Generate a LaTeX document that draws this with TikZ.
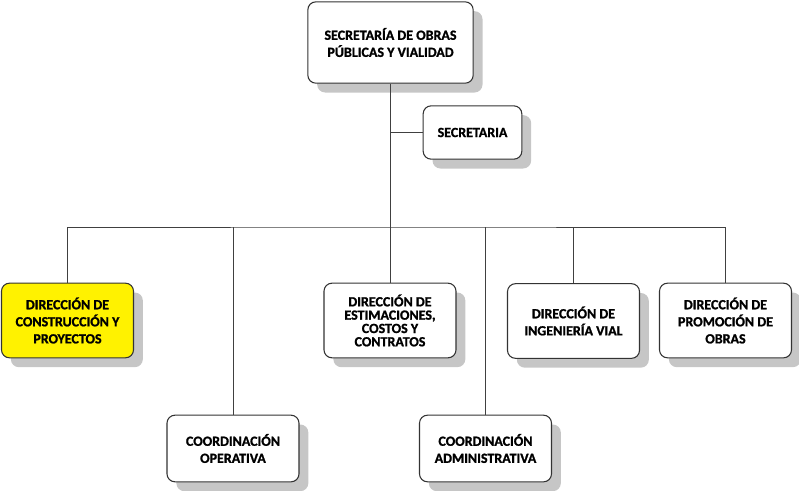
\documentclass[tikz,border=0pt]{standalone}
\usepackage{fontspec}
\setmainfont{Carlito}[BoldFeatures={FakeBold=1.2}]
\usetikzlibrary{positioning,shadows}
\tikzset{unit/.style = {draw=black!80, line width=0.8pt, rounded corners=6pt, fill=white, align=center,
    font=\bfseries\fontsize{10.5}{12.8}\selectfont, inner sep=2pt,
    drop shadow={shadow xshift=7pt, shadow yshift=-7pt, fill=gray!45, opacity=1}}}
\tikzset{wide/.style = {minimum width=99pt, minimum height=56pt}}
\tikzset{link/.style = {draw=black!75, line width=0.7pt}}

\begin{document}
\begin{tikzpicture}[x=0.75pt, y=-0.75pt]
		\useasboundingbox (0,0) rectangle (799,490);
		\node[unit, minimum width=124pt, minimum height=61pt] (sop) at (390.5,42.5) {SECRETARÍA DE OBRAS\\PÚBLICAS Y VIALIDAD};
		\node[unit, minimum width=74pt, minimum height=40pt] (sec) at (472.5,132.5) {SECRETARIA};
		\node[unit, wide, fill=yellow] (dcp) at (67.5,320.5) {DIRECCIÓN DE\\CONSTRUCCIÓN Y\\PROYECTOS};
		\node[unit, wide, font=\bfseries\fontsize{10.5}{10}\selectfont] (dec) at (390,320.5) {DIRECCIÓN DE\\ESTIMACIONES,\\COSTOS Y\\CONTRATOS};
		\node[unit, wide] (div) at (573.5,321) {DIRECCIÓN DE\\INGENIERÍA VIAL};
		\node[unit, wide] (dpo) at (725.5,320.5) {DIRECCIÓN DE\\PROMOCIÓN DE\\OBRAS};
		\node[unit, wide, minimum height=50pt] (cop) at (233,448.5) {COORDINACIÓN\\OPERATIVA};
		\node[unit, wide, minimum height=50pt] (cad) at (485.5,448.5) {COORDINACIÓN\\ADMINISTRATIVA};
		\coordinate (bar) at (390.5,227);
		\path[link] (sop.south) edge (bar);
		\path[link] (sec.west) edge (sec.west -| sop.south);
		\draw[link] (dcp.north) |- (bar) -| (dpo.north);
		\foreach \n in {cop,dec,cad,div}
			\draw[link] (\n.north) -- (\n.north |- bar);
	\end{tikzpicture}
\end{document}
